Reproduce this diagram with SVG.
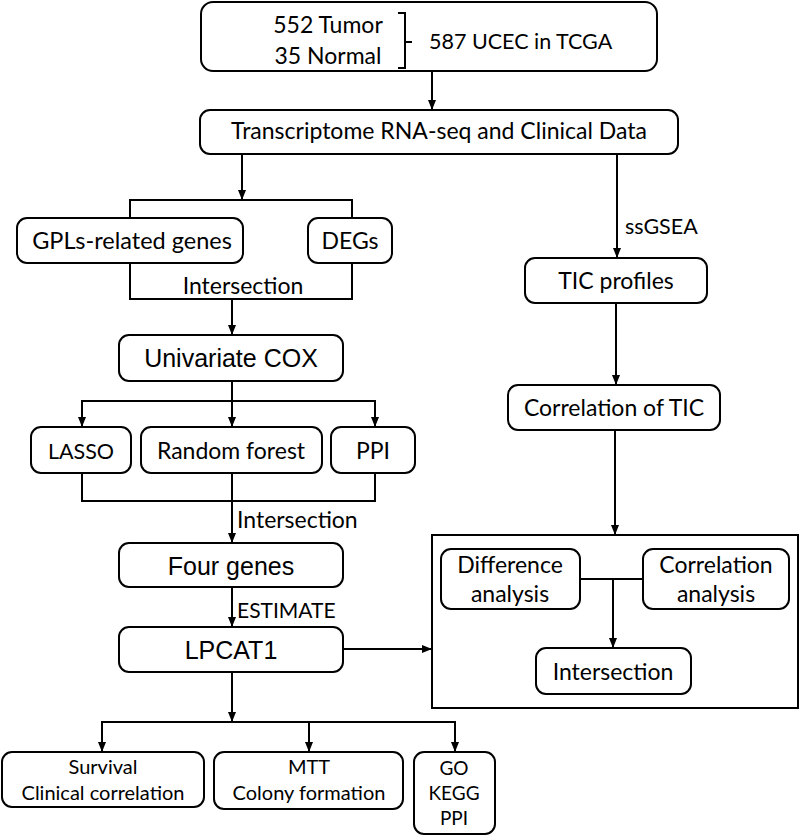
<svg xmlns="http://www.w3.org/2000/svg" width="799" height="837" viewBox="0 0 799 837">
<style>
.b{fill:#fff;stroke:#000;stroke-width:2}
.c{fill:none;stroke:#000;stroke-width:2}
.t{font-family:Lato,"Liberation Sans",sans-serif;font-size:23px;fill:#000;text-anchor:middle}
.s{font-size:20px}
.a{font-family:"Liberation Sans",Arial,sans-serif;font-size:25px;fill:#000;text-anchor:middle}
.l{text-anchor:start}
</style>
<defs>
<marker id="ah" markerWidth="10" markerHeight="10" refX="9" refY="5" orient="auto" markerUnits="userSpaceOnUse">
<path d="M0,1 L10,5 L0,9 Z" fill="#000"/>
</marker>
</defs>
<rect width="799" height="837" fill="#fff"/>
<g id="n-bigbox">
<rect x="432" y="535" width="366" height="173" fill="none" stroke="#000" stroke-width="2"/>
</g>
<g id="connectors">
<path class="c" d="M432,71 V109" marker-end="url(#ah)"/>
<path class="c" d="M242,154 V199"  marker-end="url(#ah)"/>
<path class="c" d="M130,218 V200 H352 V218"/>
<path class="c" d="M130,263 V299 H352 V263"/>
<path class="c" d="M232,299 V334" marker-end="url(#ah)"/>
<path class="c" d="M232,381 V426" marker-end="url(#ah)"/>
<path class="c" d="M82,426 V401 H375 V426" />
<path class="c" d="M82,401 V426" marker-end="url(#ah)"/>
<path class="c" d="M375,401 V426" marker-end="url(#ah)"/>
<path class="c" d="M82,473 V501 H375 V473"/>
<path class="c" d="M232,473 V542" marker-end="url(#ah)"/>
<path class="c" d="M232,587 V626" marker-end="url(#ah)"/>
<path class="c" d="M343,649 H431" marker-end="url(#ah)"/>
<path class="c" d="M232,672 V721" marker-end="url(#ah)"/>
<path class="c" d="M102,751 V722 H455 V751"/>
<path class="c" d="M102,722 V751" marker-end="url(#ah)"/>
<path class="c" d="M309,722 V751" marker-end="url(#ah)"/>
<path class="c" d="M455,722 V751" marker-end="url(#ah)"/>
<path class="c" d="M617,154 V257" marker-end="url(#ah)"/>
<path class="c" d="M616,303 V384" marker-end="url(#ah)"/>
<path class="c" d="M615,430 V534" marker-end="url(#ah)"/>
<path class="c" d="M580,579 H643"/>
<path class="c" d="M613,579 V647" marker-end="url(#ah)"/>
</g>
<g id="n-top">
<rect class="b" x="201" y="2" width="456" height="69" rx="12"/>
<text class="t" x="328" y="33">552 Tumor</text>
<text class="t" x="328" y="64">35 Normal</text>
<path class="c" d="M398,13 H405 V68 H398 M405,42 H412"/>
<text class="t l" x="429" y="49" style="font-size:21.5px">587 UCEC in TCGA</text>
</g>
<g id="n-trans">
<rect class="b" x="200" y="110" width="478" height="44" rx="10"/>
<text class="t" x="439" y="139">Transcriptome RNA-seq and Clinical Data</text>
</g>
<g id="n-gpls">
<rect class="b" x="17" y="218" width="226" height="45" rx="10"/>
<text class="t" x="132" y="249" style="font-size:23.5px">GPLs-related genes</text>
</g>
<g id="n-degs">
<rect class="b" x="308" y="218" width="84" height="45" rx="10"/>
<text class="t" x="350" y="249">DEGs</text>
</g>
<g id="lbl-int1"><text class="t" x="243" y="294">Intersection</text></g>
<g id="n-cox">
<rect class="b" x="119" y="335" width="224" height="46" rx="10"/>
<text class="a" x="231" y="367">Univariate COX</text>
</g>
<g id="n-lasso">
<rect class="b" x="31" y="427" width="100" height="46" rx="10"/>
<text class="t" x="81" y="459" style="font-size:21.5px">LASSO</text>
</g>
<g id="n-rf">
<rect class="b" x="141" y="427" width="181" height="46" rx="10"/>
<text class="t" x="231" y="459">Random forest</text>
</g>
<g id="n-ppi">
<rect class="b" x="331" y="427" width="84" height="46" rx="10"/>
<text class="t" x="373" y="459">PPI</text>
</g>
<g id="lbl-int2"><text class="t l" x="237" y="528">Intersection</text></g>
<g id="n-four">
<rect class="b" x="119" y="543" width="224" height="44" rx="10"/>
<text class="a" x="231" y="575">Four genes</text>
</g>
<g id="lbl-est"><text class="t l" x="237" y="618" style="font-size:21px">ESTIMATE</text></g>
<g id="n-lpcat">
<rect class="b" x="119" y="627" width="224" height="45" rx="10"/>
<text class="a" x="231" y="659">LPCAT1</text>
</g>
<g id="n-surv">
<rect class="b" x="2" y="752" width="202" height="55" rx="10"/>
<text class="t s" x="103" y="774">Survival</text>
<text class="t s" x="103" y="800">Clinical correlation</text>
</g>
<g id="n-mtt">
<rect class="b" x="214" y="752" width="189" height="57" rx="10"/>
<text class="t s" x="309" y="774">MTT</text>
<text class="t s" x="309" y="800">Colony formation</text>
</g>
<g id="n-go">
<rect class="b" x="414" y="752" width="81" height="82" rx="10"/>
<text class="t" x="454" y="775" style="font-size:19px">GO</text>
<text class="t" x="454" y="800" style="font-size:19px">KEGG</text>
<text class="t" x="454" y="825" style="font-size:19px">PPI</text>
</g>
<g id="lbl-ssgsea"><text class="t l" x="625" y="234" style="font-size:21.5px">ssGSEA</text></g>
<g id="n-tic">
<rect class="b" x="525" y="258" width="182" height="45" rx="10"/>
<text class="t" x="616" y="289">TIC profiles</text>
</g>
<g id="n-cortic">
<rect class="b" x="508" y="385" width="212" height="45" rx="10"/>
<text class="t" x="614" y="416">Correlation of TIC</text>
</g>
<g id="n-diff">
<rect class="b" x="441" y="549" width="139" height="60" rx="10"/>
<text class="t" x="510" y="573">Difference</text>
<text class="t" x="510" y="602">analysis</text>
</g>
<g id="n-corr">
<rect class="b" x="643" y="549" width="146" height="60" rx="10"/>
<text class="t" x="716" y="573">Correlation</text>
<text class="t" x="716" y="602">analysis</text>
</g>
<g id="n-inter">
<rect class="b" x="536" y="648" width="155" height="46" rx="10"/>
<text class="t" x="613" y="680">Intersection</text>
</g>
</svg>
